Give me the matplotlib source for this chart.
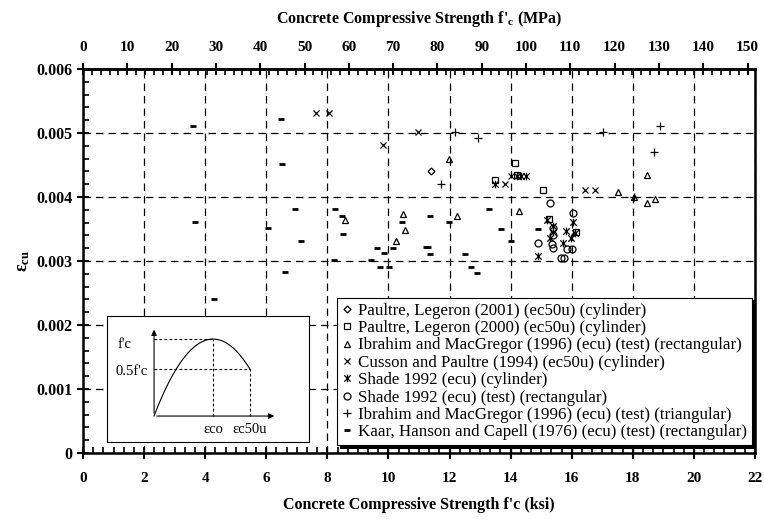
import numpy as np
import matplotlib
matplotlib.use("Agg")
import matplotlib.pyplot as plt
from matplotlib.ticker import MultipleLocator, FixedLocator, FuncFormatter
from matplotlib.path import Path

plt.rcParams['font.family'] = ['Liberation Serif', 'DejaVu Serif']
plt.rcParams['mathtext.fontset'] = 'custom'
plt.rcParams['mathtext.rm'] = 'Liberation Serif'
plt.rcParams['mathtext.it'] = 'Liberation Serif:italic'
plt.rcParams['mathtext.bf'] = 'Liberation Serif:bold'

KSI_TO_MPA = 6.895

# data (f'c in ksi, strain)
paultre01_fc = [11.39]
paultre01_eps = [0.00441]

paultre00_fc = [13.49, 14.14, 14.2, 15.06, 15.25, 16.14]
paultre00_eps = [0.00427, 0.00453, 0.00434, 0.00411, 0.00366, 0.00345]

ibrahim_rect_fc = [8.58, 10.25, 10.47, 10.54, 11.98, 12.24, 14.28, 17.5, 18.04, 18.46, 18.46, 18.72]
ibrahim_rect_eps = [0.00364, 0.00331, 0.00373, 0.00348, 0.00459, 0.00370, 0.00378,
                    0.00408, 0.00400, 0.00434, 0.00391, 0.00397]

cusson_fc = [7.63, 8.05, 9.82, 10.97, 13.8, 14.0, 16.43, 16.76]
cusson_eps = [0.00531, 0.00531, 0.00481, 0.00502, 0.00421, 0.00433, 0.00411, 0.00411]

shade_cyl_fc = [13.49, 14.2, 14.35, 14.5, 14.9, 15.2, 15.3, 15.4, 15.4, 15.7, 15.8, 15.97, 16.05, 16.1]
shade_cyl_eps = [0.00421, 0.00433, 0.00433, 0.00433, 0.00308, 0.00364, 0.00336,
                 0.00355, 0.00346, 0.00328, 0.00347, 0.00336, 0.00361, 0.00344]

shade_rect_fc = [14.9, 15.3, 15.35, 15.4, 15.4, 15.4, 15.65, 15.75, 15.84, 16.0, 16.05]
shade_rect_eps = [0.00328, 0.00391, 0.00327, 0.00351, 0.00341, 0.00320, 0.00305,
                  0.00305, 0.00319, 0.00319, 0.00375]

ibrahim_tri_fc = [11.72, 12.18, 12.93, 17.02, 18.04, 18.69, 18.89]
ibrahim_tri_eps = [0.00420, 0.00502, 0.00492, 0.00502, 0.00400, 0.00470, 0.00511]

kaar_fc = [3.6, 3.67, 4.29, 6.06, 6.48, 6.51, 6.61, 6.94, 7.14, 8.22, 8.25, 8.48, 8.48,
           8.51, 9.43, 9.62, 9.72, 9.85, 10.02, 10.15, 10.44, 11.22, 11.3, 11.36, 11.36,
           11.98, 12.5, 12.7, 12.9, 13.29, 13.7, 14.0, 14.9]
kaar_eps = [0.00511, 0.00361, 0.00241, 0.00352, 0.00522, 0.00452, 0.00283, 0.00381,
            0.00331, 0.00302, 0.00381, 0.00370, 0.00241, 0.00342, 0.00302, 0.00320,
            0.00291, 0.00312, 0.00291, 0.00320, 0.00361, 0.00322, 0.00322, 0.00370,
            0.00311, 0.00361, 0.00311, 0.00291, 0.00281, 0.00381, 0.00350, 0.00331, 0.00350]

mpa_ticks = list(range(0, 151, 10))

# x with a vertical bar, like the Excel asterisk marker
star_x = Path([(-1, -1), (1, 1), (-1, 1), (1, -1), (0, -1.2), (0, 1.2)],
              [Path.MOVETO, Path.LINETO, Path.MOVETO, Path.LINETO, Path.MOVETO, Path.LINETO])

series = [
    (paultre01_fc, paultre01_eps, 'D', 3.5, "Paultre, Legeron (2001) (ec50u) (cylinder)"),
    (paultre00_fc, paultre00_eps, 's', 4.5, "Paultre, Legeron (2000) (ec50u) (cylinder)"),
    (ibrahim_rect_fc, ibrahim_rect_eps, '^', 4.5, "Ibrahim and MacGregor (1996) (ecu) (test) (rectangular)"),
    (cusson_fc, cusson_eps, 'x', 5, "Cusson and Paultre (1994) (ec50u) (cylinder)"),
    (shade_cyl_fc, shade_cyl_eps, star_x, 5.5, "Shade 1992 (ecu) (cylinder)"),
    (shade_rect_fc, shade_rect_eps, 'o', 5, "Shade 1992 (ecu) (test) (rectangular)"),
    (ibrahim_tri_fc, ibrahim_tri_eps, '+', 5.5, "Ibrahim and MacGregor (1996) (ecu) (test) (triangular)"),
    (kaar_fc, kaar_eps, '_', 5, "Kaar, Hanson and Capell (1976) (ecu) (test) (rectangular)"),
]

fig = plt.figure(figsize=(7.64, 5.19), dpi=100)
ax = fig.add_axes([83 / 764, 66 / 519, 672 / 764, 384 / 519])

for fc, eps, mk, ms, lab in series:
    is_dash = isinstance(mk, str) and mk == '_'
    ax.plot(fc, eps, ls='none', marker=mk, ms=ms, mfc='none', mec='black',
            mew=2.0 if is_dash else 0.9, label=lab, zorder=3)

ax.set_xlim(0, 22)
ax.set_ylim(0, 0.006)
ax.xaxis.set_major_locator(MultipleLocator(2))
ax.xaxis.set_minor_locator(MultipleLocator(2 / 6))
ax.yaxis.set_major_locator(MultipleLocator(0.001))
ax.yaxis.set_minor_locator(MultipleLocator(0.0002))
ax.yaxis.set_major_formatter(FuncFormatter(lambda v, p: '0' if abs(v) < 1e-9 else f'{v:.3f}'))
ax.grid(which='major', color='black', ls=(0, (6, 4)), lw=0.9)

for s in ax.spines.values():
    s.set_linewidth(1.8)
ax.tick_params(which='major', direction='inout', length=8, width=1.5, labelsize=11)
ax.tick_params(axis='y', labelsize=11.5)
ax.tick_params(which='minor', direction='in', length=4, width=1.2)
ax.tick_params(axis='both', which='both', top=False, right=False)
for t in ax.get_xticklabels() + ax.get_yticklabels():
    t.set_fontweight('bold')
ax.tick_params(axis='x', pad=10)

ax.set_xlabel("Concrete Compressive Strength f'c (ksi)", fontsize=11.5, fontweight='bold', labelpad=8)
ax.set_ylabel(r"$\mathbf{\varepsilon_{cu}}$", fontsize=13, labelpad=3)

top = ax.secondary_xaxis('top', functions=(lambda k: k * KSI_TO_MPA, lambda m: m / KSI_TO_MPA))
top.xaxis.set_major_locator(FixedLocator(mpa_ticks))
top.xaxis.set_minor_locator(MultipleLocator(2))
top.tick_params(which='major', direction='inout', length=8, width=1.5, labelsize=11, pad=7)
top.tick_params(which='minor', direction='in', length=4, width=1.2)
for t in top.get_xticklabels():
    t.set_fontweight('bold')
top.set_xlabel(r"Concrete Compressive Strength f'$_\mathbf{c}$ (MPa)", fontsize=11.5,
               fontweight='bold', labelpad=13)
top.spines['top'].set_linewidth(1.8)

leg = ax.legend(loc='lower right', bbox_to_anchor=(0.996, 0.02), fontsize=12.2,
                frameon=True, fancybox=False, edgecolor='black', framealpha=1,
                borderaxespad=0, handlelength=0.6, handletextpad=0.35, labelspacing=0.08,
                borderpad=0.3, shadow={'color': 'black', 'alpha': 1})
leg.get_frame().set_linewidth(0.8)
leg.set_zorder(5)

# inset sketch of the stress-strain curve
ins = fig.add_axes([107 / 764, 77 / 519, 202 / 764, 126 / 519])
ins.set_xlim(0, 1)
ins.set_ylim(0, 1)
ins.set_xticks([])
ins.set_yticks([])
for s in ins.spines.values():
    s.set_linewidth(0.8)
ins.set_zorder(4)

x0, y0 = 0.233, 0.206
eco_w, peak_h = 0.292, 0.611
r = np.linspace(0, 1.627, 100)
ins.plot(x0 + eco_w * r, y0 + peak_h * (2 * r - r ** 2), color='black', lw=0.8)
ins.annotate('', xy=(0.842, y0), xytext=(x0, y0),
             arrowprops=dict(arrowstyle='-|>', lw=0.8, color='black', mutation_scale=8))
ins.annotate('', xy=(x0, 0.913), xytext=(x0, y0),
             arrowprops=dict(arrowstyle='-|>', lw=0.8, color='black', mutation_scale=8))
x_pk, y_pk = x0 + eco_w, y0 + peak_h
r50 = 1.627
x_50, y_50 = x0 + eco_w * r50, y0 + peak_h * (2 * r50 - r50 ** 2)
ins.plot([x0, x_pk], [y_pk, y_pk], ls=(0, (2.5, 2)), color='black', lw=0.8)
ins.plot([x_pk, x_pk], [y0, y_pk], ls=(0, (2.5, 2)), color='black', lw=0.8)
ins.plot([x0, x_50], [y_50, y_50], ls=(0, (2.5, 2)), color='black', lw=0.8)
ins.plot([x_50, x_50], [y0, y_50], ls=(0, (2.5, 2)), color='black', lw=0.8)
ins.text(0.05, y_pk - 0.04, "f'c", fontsize=10.5, va='center', ha='left')
ins.text(0.04, y_50 - 0.02, "0.5f'c", fontsize=10.5, va='center', ha='left')
ins.text(x_pk, 0.1, "εco", fontsize=10.5, va='center', ha='center')
ins.text(x_50, 0.1, "εc50u", fontsize=10.5, va='center', ha='center')

fig.savefig('out.png', dpi=100)
